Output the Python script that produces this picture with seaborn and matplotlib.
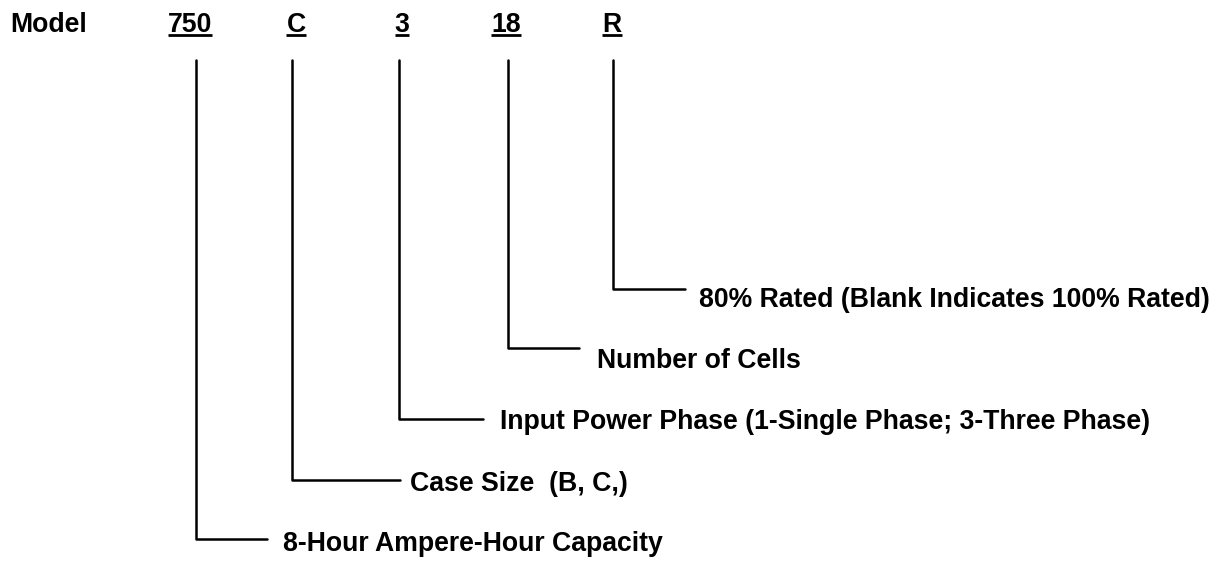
import matplotlib
matplotlib.use("Agg")
import matplotlib.pyplot as plt
import pandas as pd
import seaborn as sns

# model code pieces and what each one means
codes = ['750', 'C', '3', '18', 'R']
descriptions = [
    '8-Hour Ampere-Hour Capacity',
    'Case Size  (B, C,)',
    'Input Power Phase (1-Single Phase; 3-Three Phase)',
    'Number of Cells',
    '80% Rated (Blank Indicates 100% Rated)',
]

# layout, in pixels of the 1217x561 canvas
code_x = [190, 296, 402, 506, 612]
stem_x = [196, 292, 399, 508, 613]
stem_top = 60
elbow_y = [539, 480, 419, 348, 289]
arm_end = [267, 400, 483, 579, 685]
desc_x = [283, 410, 500, 597, 699]
desc_base = [551, 491, 429, 368, 307]

sns.set_theme(style="white")
plt.rcParams['font.family'] = ['Liberation Sans', 'DejaVu Sans']
plt.rcParams['text.color'] = 'black'
FS = 19.2
FONT = dict(fontsize=FS, fontweight='bold', family=['Liberation Sans', 'DejaVu Sans'], color='black')

fig = plt.figure(figsize=(12.17, 5.61), dpi=100)
ax = fig.add_axes([0, 0, 1, 1])

# connector paths: stem down from the code, then an arm to the right
rows = []
for c, sx, ey, ae in zip(codes, stem_x, elbow_y, arm_end):
    rows += [(c, 0, sx, stem_top), (c, 1, sx, ey), (c, 2, ae, ey)]
paths = pd.DataFrame(rows, columns=['code', 'step', 'x', 'y'])
sns.lineplot(data=paths, x='x', y='y', units='code', estimator=None,
             sort=False, color='black', linewidth=1.8, ax=ax)

ax.set_xlim(0, 1217)
ax.set_ylim(561, 0)
ax.axis('off')

ax.text(10, 32, 'Model', ha='left', va='baseline', **FONT)
labels = []
for c, cx in zip(codes, code_x):
    labels.append(ax.text(cx, 32, c, ha='center', va='baseline', **FONT))

for d, dx, dy in zip(descriptions, desc_x, desc_base):
    ax.text(dx, dy, d, ha='left', va='baseline', **FONT)

# underline each code piece across its own width
fig.canvas.draw()
inv = ax.transData.inverted()
for t in labels:
    bb = t.get_window_extent()
    (x0, _), (x1, _) = inv.transform([(bb.x0, 0), (bb.x1, 0)])
    ax.plot([x0, x1], [34.5, 34.5], color='black', linewidth=2, solid_capstyle='butt')

fig.savefig('out.png', dpi=100, facecolor='white')
